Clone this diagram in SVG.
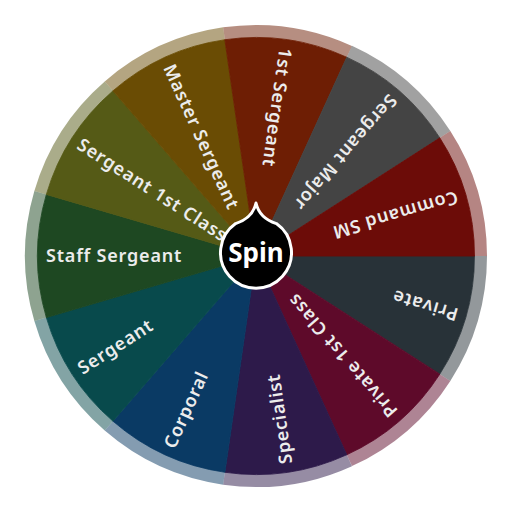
<svg xmlns="http://www.w3.org/2000/svg" xmlns:xlink="http://www.w3.org/1999/xlink" width="512" height="512" viewBox="0 0 512 512">
<style>
.lbl{font-family:"Noto Sans","DejaVu Sans",sans-serif;font-size:18px;font-weight:600;fill:#ececec;letter-spacing:0.8px}
.sec{stroke-width:0.8;stroke-linejoin:round}
.rim{fill:none;stroke-width:12.5;stroke-opacity:0.5}
.spin{font-family:"Noto Sans","DejaVu Sans",sans-serif;font-size:26px;font-weight:700;fill:#ffffff}
</style>
<defs>
<path id="sec" d="M256,256 L474.5,256 A218.5,218.5 0 0 1 439.81,374.13 Z"/>
<path id="arc" d="M480.75,256 A224.75,224.75 0 0 1 445.07,377.51"/>
</defs>
<rect width="512" height="512" fill="#ffffff"/>
<g id="node-private">
<use xlink:href="#sec" class="sec" fill="#283238" stroke="#283238"/>
<use xlink:href="#arc" class="rim" stroke="#283238"/>
<text class="lbl" x="46" y="256" dy="0.36em" transform="rotate(196.364 256 256)">Private</text>
</g>
<g id="node-private-1st-class">
<use xlink:href="#sec" class="sec" fill="#5e0a2a" stroke="#5e0a2a" transform="rotate(32.727 256 256)"/>
<use xlink:href="#arc" class="rim" stroke="#5e0a2a" transform="rotate(32.727 256 256)"/>
<text class="lbl" x="46" y="256" dy="0.36em" transform="rotate(229.091 256 256)">Private 1st Class</text>
</g>
<g id="node-specialist">
<use xlink:href="#sec" class="sec" fill="#2d1a4a" stroke="#2d1a4a" transform="rotate(65.455 256 256)"/>
<use xlink:href="#arc" class="rim" stroke="#2d1a4a" transform="rotate(65.455 256 256)"/>
<text class="lbl" x="46" y="256" dy="0.36em" transform="rotate(261.818 256 256)">Specialist</text>
</g>
<g id="node-corporal">
<use xlink:href="#sec" class="sec" fill="#0a3a64" stroke="#0a3a64" transform="rotate(98.182 256 256)"/>
<use xlink:href="#arc" class="rim" stroke="#0a3a64" transform="rotate(98.182 256 256)"/>
<text class="lbl" x="46" y="256" dy="0.36em" transform="rotate(294.545 256 256)">Corporal</text>
</g>
<g id="node-sergeant">
<use xlink:href="#sec" class="sec" fill="#084a4c" stroke="#084a4c" transform="rotate(130.909 256 256)"/>
<use xlink:href="#arc" class="rim" stroke="#084a4c" transform="rotate(130.909 256 256)"/>
<text class="lbl" x="46" y="256" dy="0.36em" transform="rotate(327.273 256 256)">Sergeant</text>
</g>
<g id="node-staff-sergeant">
<use xlink:href="#sec" class="sec" fill="#1e4822" stroke="#1e4822" transform="rotate(163.636 256 256)"/>
<use xlink:href="#arc" class="rim" stroke="#1e4822" transform="rotate(163.636 256 256)"/>
<text class="lbl" x="46" y="256" dy="0.36em">Staff Sergeant</text>
</g>
<g id="node-sergeant-1st-class">
<use xlink:href="#sec" class="sec" fill="#555a16" stroke="#555a16" transform="rotate(196.364 256 256)"/>
<use xlink:href="#arc" class="rim" stroke="#555a16" transform="rotate(196.364 256 256)"/>
<text class="lbl" x="46" y="256" dy="0.36em" transform="rotate(32.727 256 256)">Sergeant 1st Class</text>
</g>
<g id="node-master-sergeant">
<use xlink:href="#sec" class="sec" fill="#6a4c04" stroke="#6a4c04" transform="rotate(229.091 256 256)"/>
<use xlink:href="#arc" class="rim" stroke="#6a4c04" transform="rotate(229.091 256 256)"/>
<text class="lbl" x="46" y="256" dy="0.36em" transform="rotate(65.455 256 256)">Master Sergeant</text>
</g>
<g id="node-1st-sergeant">
<use xlink:href="#sec" class="sec" fill="#6e1e04" stroke="#6e1e04" transform="rotate(261.818 256 256)"/>
<use xlink:href="#arc" class="rim" stroke="#6e1e04" transform="rotate(261.818 256 256)"/>
<text class="lbl" x="46" y="256" dy="0.36em" transform="rotate(98.182 256 256)">1st Sergeant</text>
</g>
<g id="node-sergeant-major">
<use xlink:href="#sec" class="sec" fill="#444444" stroke="#444444" transform="rotate(294.545 256 256)"/>
<use xlink:href="#arc" class="rim" stroke="#444444" transform="rotate(294.545 256 256)"/>
<text class="lbl" x="46" y="256" dy="0.36em" transform="rotate(130.909 256 256)">Sergeant Major</text>
</g>
<g id="node-command-sm">
<use xlink:href="#sec" class="sec" fill="#6c0c08" stroke="#6c0c08" transform="rotate(327.273 256 256)"/>
<use xlink:href="#arc" class="rim" stroke="#6c0c08" transform="rotate(327.273 256 256)"/>
<text class="lbl" x="46" y="256" dy="0.36em" transform="rotate(163.636 256 256)">Command SM</text>
</g>
<g id="node-spin">
<path d="M256,203 C258,212 265,220 276.4,223.6 A35.5,35.5 0 1 1 235.6,223.6 C247,220 254,212 256,203 Z" fill="#000000" stroke="#ffffff" stroke-width="3" stroke-linejoin="round"/>
<text class="spin" x="256" y="262" text-anchor="middle">Spin</text>
</g>
</svg>
